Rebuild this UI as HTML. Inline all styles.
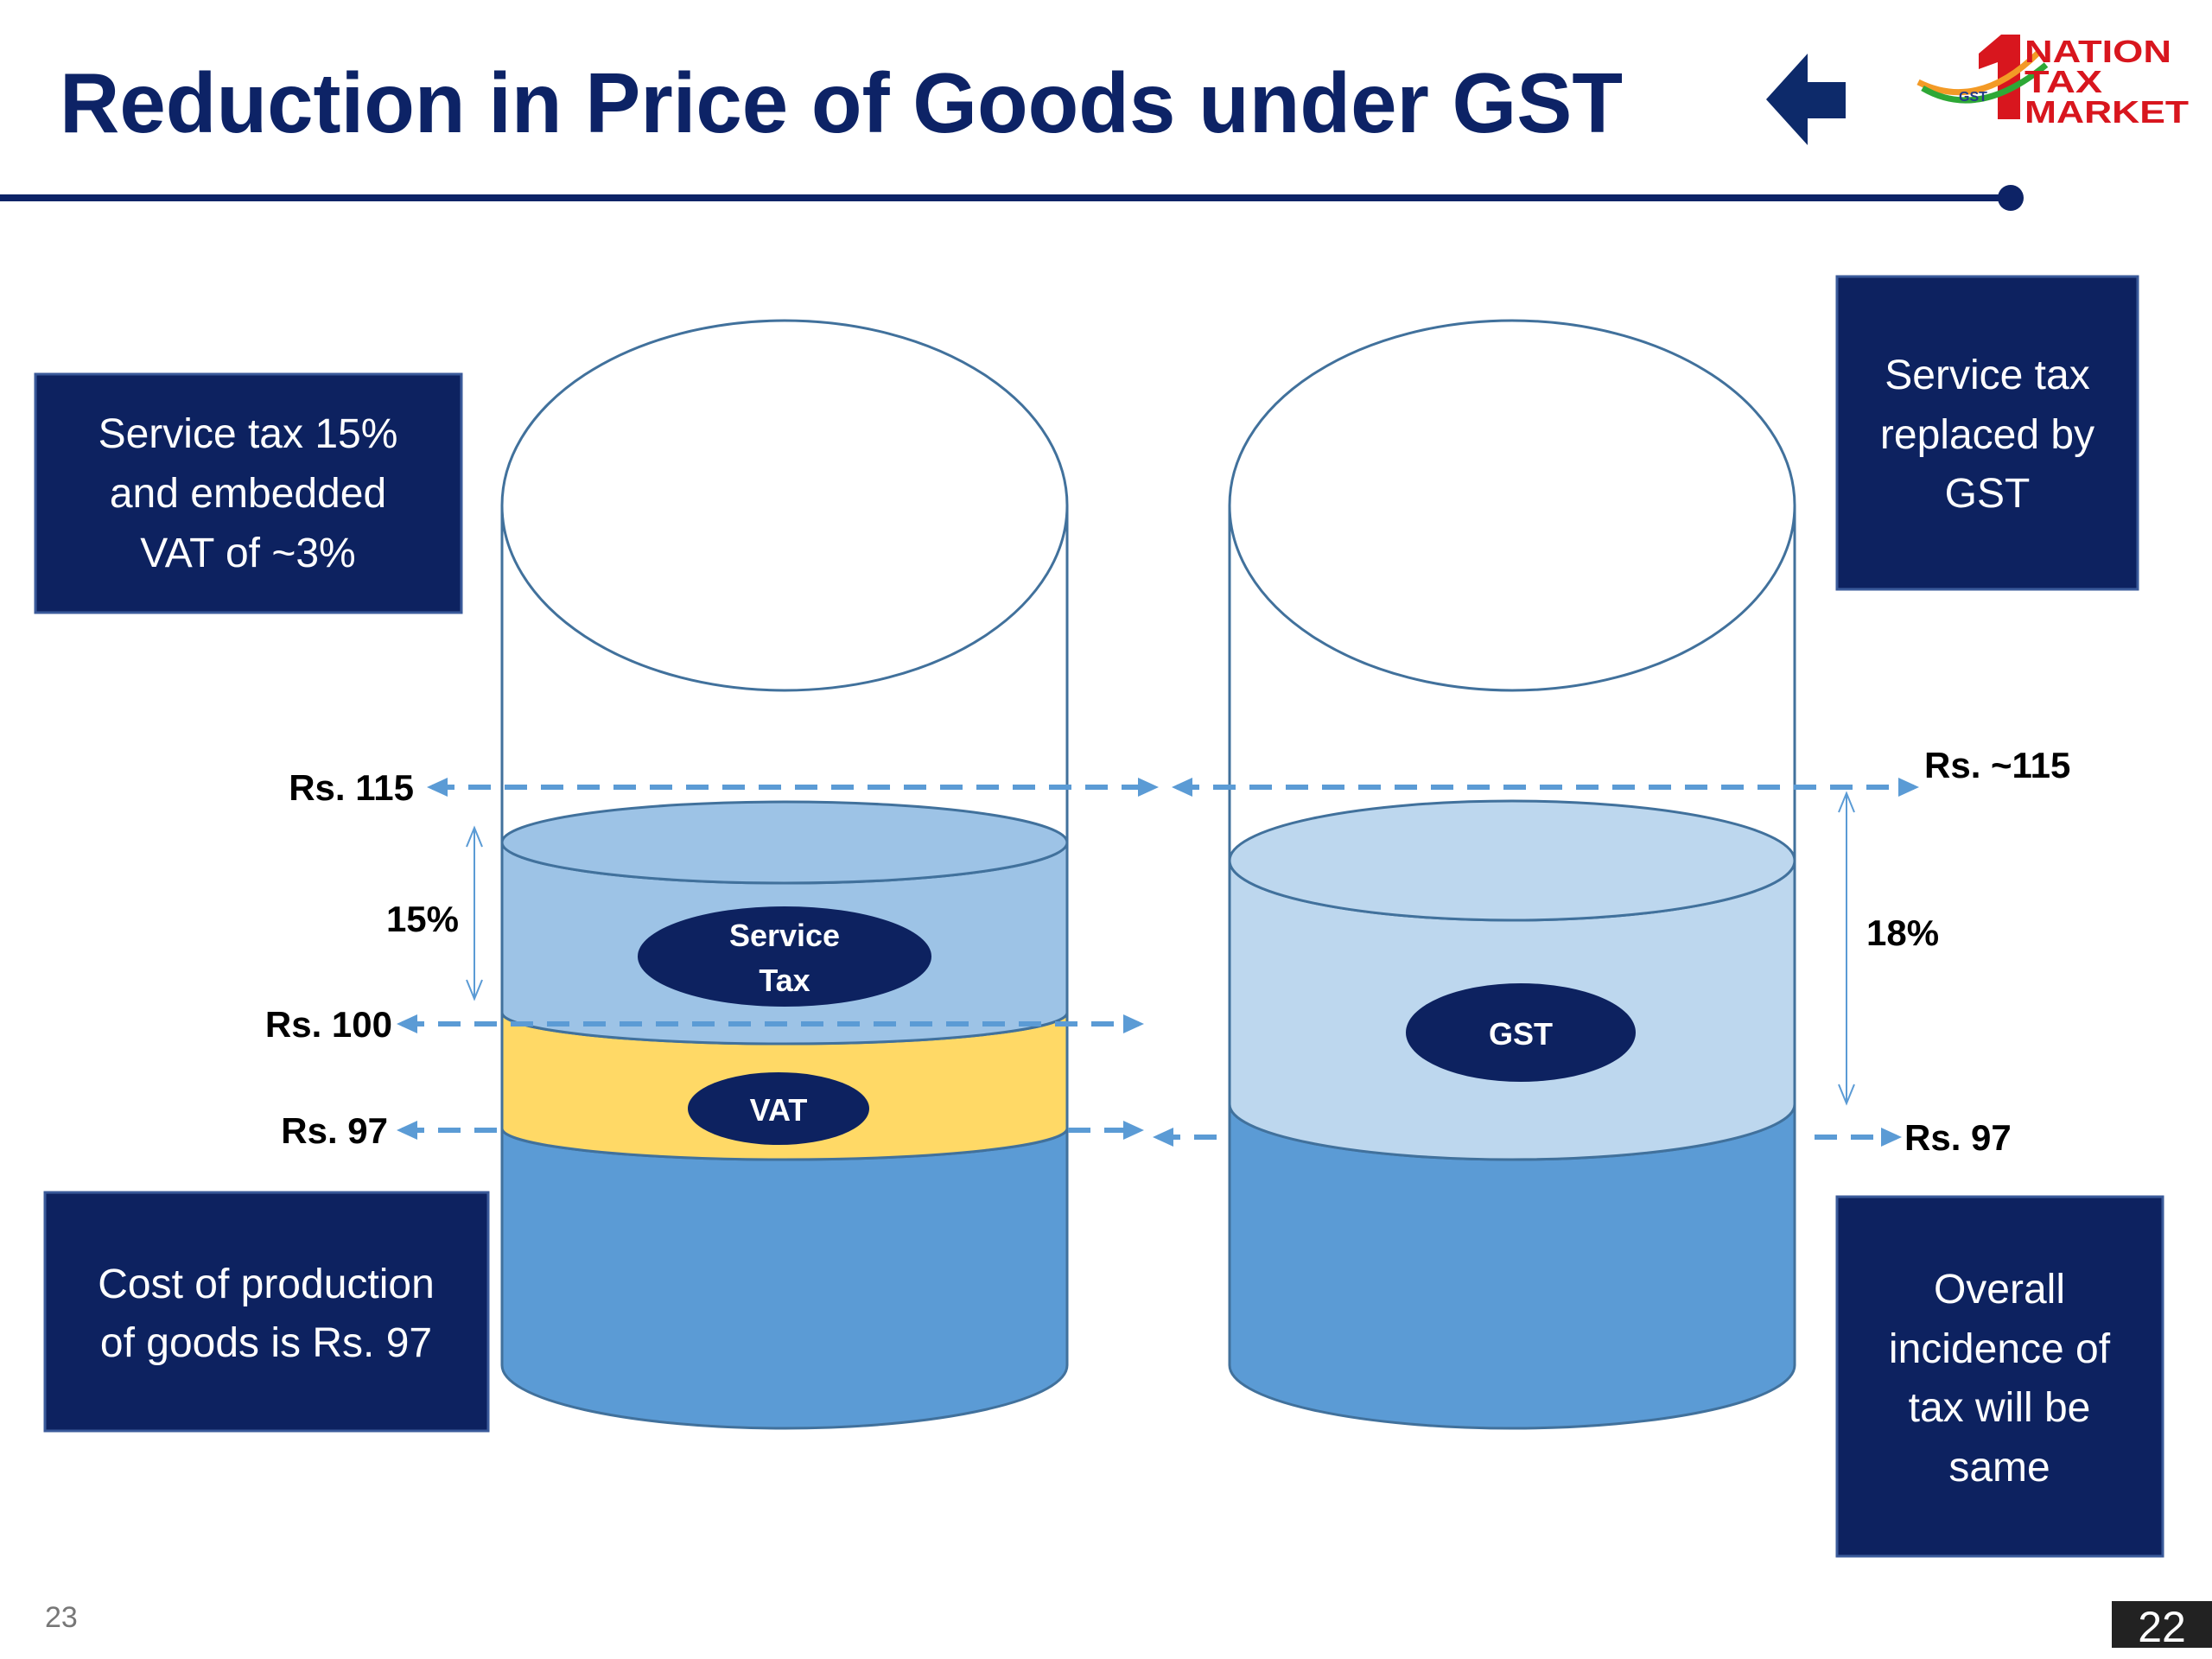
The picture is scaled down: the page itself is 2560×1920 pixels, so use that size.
<!DOCTYPE html>
<html><head><meta charset="utf-8"><style>
html,body{margin:0;padding:0;background:#fff;}
svg{display:block;}
text{font-family:"Liberation Sans",sans-serif;}
</style></head><body>
<svg id="s" width="2560" height="1920" viewBox="0 0 2560 1920" xmlns="http://www.w3.org/2000/svg">
<text x="69" y="153" font-size="98" font-weight="bold" fill="#0d2366" textLength="1809" lengthAdjust="spacingAndGlyphs">Reduction in Price of Goods under GST</text>
<polygon points="2044,115 2092,62 2092,95 2136,95 2136,137 2092,137 2092,168" fill="#0d2a6a"/>
<g>
<path d="M2290,62 L2316,40 L2338,40 L2338,138 L2312,138 L2312,72 L2290,80 Z" fill="#d8161e"/>
<path d="M2220,95 Q2290,130 2360,60" stroke="#f39a26" stroke-width="7" fill="none"/>
<path d="M2225,102 Q2290,140 2368,75" stroke="#2ea836" stroke-width="7" fill="none"/>
<text x="2267" y="117" font-size="16" font-weight="bold" fill="#233a8a">GST</text>
<text x="2343" y="72" font-size="36" font-weight="bold" fill="#d8161e" textLength="170" lengthAdjust="spacingAndGlyphs">NATION</text>
<text x="2343" y="107" font-size="36" font-weight="bold" fill="#d8161e" textLength="90" lengthAdjust="spacingAndGlyphs">TAX</text>
<text x="2343" y="142" font-size="36" font-weight="bold" fill="#d8161e" textLength="190" lengthAdjust="spacingAndGlyphs">MARKET</text>
</g>
<line x1="0" y1="229" x2="2327" y2="229" stroke="#0d2366" stroke-width="8"/>
<circle cx="2327" cy="229" r="15" fill="#0d2366"/>
<g id="cyl"></g>
<g id="ann"></g>
<g>
<rect x="41" y="433" width="493" height="276" fill="#0d2260" stroke="#3a5a9a" stroke-width="3"/>
<text x="287" y="518" font-size="48" fill="#fff" text-anchor="middle">Service tax 15%</text>
<text x="287" y="587" font-size="48" fill="#fff" text-anchor="middle">and embedded</text>
<text x="287" y="656" font-size="48" fill="#fff" text-anchor="middle">VAT of ~3%</text>
</g>
<g>
<rect x="2126" y="320" width="348" height="362" fill="#0d2260" stroke="#3a5a9a" stroke-width="3"/>
<text x="2300" y="450" font-size="48" fill="#fff" text-anchor="middle">Service tax</text>
<text x="2300" y="519" font-size="48" fill="#fff" text-anchor="middle">replaced by</text>
<text x="2300" y="587" font-size="48" fill="#fff" text-anchor="middle">GST</text>
</g>
<g>
<rect x="52" y="1380" width="513" height="276" fill="#0d2260" stroke="#3a5a9a" stroke-width="3"/>
<text x="308" y="1502" font-size="48" fill="#fff" text-anchor="middle">Cost of production</text>
<text x="308" y="1570" font-size="48" fill="#fff" text-anchor="middle">of goods is Rs. 97</text>
</g>
<g>
<rect x="2126" y="1385" width="377" height="416" fill="#0d2260" stroke="#3a5a9a" stroke-width="3"/>
<text x="2314" y="1508" font-size="48" fill="#fff" text-anchor="middle">Overall</text>
<text x="2314" y="1577" font-size="48" fill="#fff" text-anchor="middle">incidence of</text>
<text x="2314" y="1645" font-size="48" fill="#fff" text-anchor="middle">tax will be</text>
<text x="2314" y="1714" font-size="48" fill="#fff" text-anchor="middle">same</text>
</g>
<text x="52" y="1883" font-size="34" fill="#777">23</text>
<rect x="2444" y="1853" width="116" height="54" fill="#222"/>
<text x="2502" y="1900" font-size="50" fill="#fff" text-anchor="middle">22</text>
</svg>
<script>
// values (Rs.) and labels
const levels = [97, 100, 115];
const leftLayers = ["Cost", "VAT", "Service Tax"];
const rightLayers = ["Cost", "GST"];
const rates = ["15%", "18%"];
const NS = "http://www.w3.org/2000/svg";
// diagram scale (not to proportion): Rs. value -> side-line y of liquid surface
function yv(v){
  if (v <= 100) return 1306 - (v - 97) * (1306 - 1172) / 3;
  return 1172 - (v - 100) * (1172 - 975) / 15;
}
function el(tag, attrs, parent){ const e=document.createElementNS(NS,tag); for(const k in attrs) e.setAttribute(k,attrs[k]); parent.appendChild(e); return e; }
const cyl = document.getElementById('cyl');
const ann = document.getElementById('ann');
const STROKE="#41719c";
const botY=1580, botRy=73, topY=585, topRy=214, rx=327;
function band(cx, yTop, yBot, ryT, ryB, fill, name){
  const d=`M${cx-rx},${yTop} L${cx-rx},${yBot} A${rx},${ryB} 0 0 0 ${cx+rx},${yBot} L${cx+rx},${yTop} A${rx},${ryT} 0 0 1 ${cx-rx},${yTop} Z`;
  const p=el('path',{d:d,fill:fill,stroke:STROKE,'stroke-width':3},cyl);
  
  
}
function cylinder(cx, layers, name){
  const o=el('path',{d:`M${cx-rx},${topY} L${cx-rx},${botY} M${cx+rx},${topY} L${cx+rx},${botY}`,stroke:STROKE,'stroke-width':3,fill:'none'},cyl);
  
  
  for(let i=0;i<layers.length;i++){
    const L=layers[i];
    band(cx, L.top, L.bot, L.ryT, L.ryB, L.fill, name+'-'+L.name);
  }
  const t=layers[layers.length-1];
  const e=el('ellipse',{cx:cx,cy:t.top,rx:rx,ry:t.ryT,fill:t.fill,stroke:STROKE,'stroke-width':3},cyl);
  
  
  const te=el('ellipse',{cx:cx,cy:topY,rx:rx,ry:topRy,fill:'#fff',stroke:STROKE,'stroke-width':3},cyl);
  
  
}
const lx=908, rxC=1750;
cylinder(lx,[
  {name:'cost-layer',top:yv(levels[0]),bot:botY,ryT:36,ryB:botRy,fill:'#5b9bd5'},
  {name:'vat-layer',top:yv(levels[1]),bot:yv(levels[0]),ryT:36,ryB:36,fill:'#ffd966'},
  {name:'service-tax-layer',top:yv(levels[2]),bot:yv(levels[1]),ryT:47,ryB:36,fill:'#9dc3e6'}
],'left-cylinder');
cylinder(rxC,[
  {name:'cost-layer',top:yv(levels[0])-28,bot:botY,ryT:64,ryB:botRy,fill:'#5b9bd5'},
  {name:'gst-layer',top:yv(levels[2])+21,bot:yv(levels[0])-28,ryT:69,ryB:64,fill:'#bdd7ee'}
],'right-cylinder');
function oval(cx,cy,rx_,ry_,lines,name){
  const g=el('g',{},cyl);
  
  
  el('ellipse',{cx:cx,cy:cy,rx:rx_,ry:ry_,fill:'#0d2260'},g);
  lines.forEach((s,i)=>{
    const t=el('text',{x:cx,y:cy+14+(i-(lines.length-1)/2)*52,'font-size':36,'font-weight':'bold',fill:'#fff','text-anchor':'middle'},g);
    t.textContent=s;
  });
}
const BLUE="#5b9bd5";
function dash(x1,x2,y,startArrow,endArrow,name){
  const g=el('g',{},ann);
  
  
  el('line',{x1:x1,y1:y,x2:x2,y2:y,stroke:BLUE,'stroke-width':6,'stroke-dasharray':'26 16'},g);
  if(startArrow) el('polygon',{points:`${x1-6},${y} ${x1+18},${y-11} ${x1+18},${y+11}`,fill:BLUE},g);
  if(endArrow) el('polygon',{points:`${x2+6},${y} ${x2-18},${y-11} ${x2-18},${y+11}`,fill:BLUE},g);
}
const y115=yv(levels[2])-64, y100=yv(levels[1])+13, y97=yv(levels[0])+2;
dash(500,1335,y115,true,true,'rs115-left-line');
dash(1362,2215,y115,true,true,'rs115-right-line');
dash(465,1318,y100,true,true,'rs100-line');
dash(465,578,y97,true,false,'rs97-left-line');
dash(1236,1318,y97,false,true,'rs97-mid-line');
dash(1340,1420,y97+8,true,false,'rs97-gst-line');
dash(2100,2195,y97+8,false,true,'rs97-right-line');
oval(908,1107,170,58,["Service","Tax"],'service-tax-oval');
oval(901,1283,105,42,["VAT"],'vat-oval');
oval(1760,1195,133,57,["GST"],'gst-oval');
function vArrow(x,y1,y2,name){
  const g=el('g',{},ann);
  
  
  el('path',{d:`M${x},${y1} L${x},${y2} M${x-9},${y1+22} L${x},${y1} L${x+9},${y1+22} M${x-9},${y2-22} L${x},${y2} L${x+9},${y2-22}`,stroke:BLUE,'stroke-width':2,fill:'none'},g);
}
vArrow(549,958,1156,'service-tax-span-arrow');
vArrow(2137,918,1277,'gst-span-arrow');
function label(x,y,s,anchor,name){
  const t=el('text',{x:x,y:y,'font-size':42,'font-weight':'bold',fill:'#000','text-anchor':anchor},ann);
  t.textContent=s;
  
  
}
label(479,y115+15,"Rs. "+levels[2],'end','rs115-label');
label(454,y100+15,"Rs. "+levels[1],'end','rs100-label');
label(449,y97+15,"Rs. "+levels[0],'end','rs97-left-label');
label(531,1078,rates[0],'end','service-tax-rate');
label(2227,900,"Rs. ~"+levels[2],'start','rs115-approx-label');
label(2160,1094,rates[1],'start','gst-rate');
label(2204,y97+23,"Rs. "+levels[0],'start','rs97-right-label');
</script>
</body></html>
